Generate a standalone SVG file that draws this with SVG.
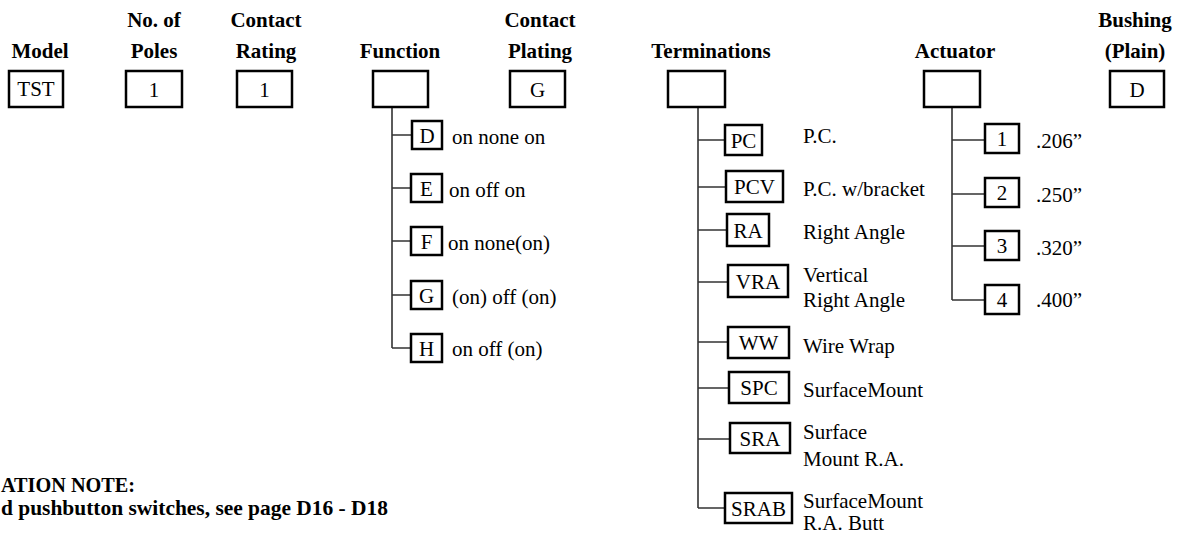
<svg xmlns="http://www.w3.org/2000/svg" width="1184" height="535" viewBox="0 0 1184 535">
<style>
.hd{font-family:"Liberation Serif","Times New Roman",serif;font-weight:bold;font-size:21px;fill:#000;text-anchor:middle}
.bx{fill:#fff;stroke:#000;stroke-width:2.5}
.bt{font-family:"Liberation Serif","Times New Roman",serif;font-size:21px;fill:#000;text-anchor:middle}
.lb{font-family:"Liberation Serif","Times New Roman",serif;font-size:21px;fill:#000}
.cn{fill:none;stroke:#333;stroke-width:1.6}
.nt{font-family:"Liberation Serif","Times New Roman",serif;font-weight:bold;font-size:21.5px;fill:#000}
</style>
<rect width="1184" height="535" fill="#fff"/>
<g id="connectors">
<path class="cn" d="M392 107V348M392 135H412M392 188H411M392 241H411M392 295H411M392 348H411"/>
<path class="cn" d="M698 107V508M698 140H725M698 187H726M698 230H727M698 282H728M698 342H728M698 388H729M698 439H730M698 508H725"/>
<path class="cn" d="M952 107V300M952 140H985M952 194H985M952 246H985M952 300H985"/>
</g>
<g id="model"><text class="hd" x="40" y="58">Model</text><rect class="bx" x="9" y="71" width="54" height="36"/><text class="bt" x="36" y="96">TST</text></g>
<g id="poles"><text class="hd" x="154" y="27">No. of</text><text class="hd" x="154" y="58">Poles</text><rect class="bx" x="126" y="71" width="56" height="36"/><text class="bt" x="154" y="97">1</text></g>
<g id="rating"><text class="hd" x="266" y="27">Contact</text><text class="hd" x="266" y="58">Rating</text><rect class="bx" x="237" y="71" width="55" height="36"/><text class="bt" x="264.5" y="97">1</text></g>
<g id="function"><text class="hd" x="400" y="58">Function</text><rect class="bx" x="373" y="71" width="55" height="36"/></g>
<g id="plating"><text class="hd" x="540" y="27">Contact</text><text class="hd" x="540" y="58">Plating</text><rect class="bx" x="510" y="71" width="55" height="36"/><text class="bt" x="537.5" y="97">G</text></g>
<g id="terminations"><text class="hd" x="711" y="58">Terminations</text><rect class="bx" x="668" y="71" width="57" height="36"/></g>
<g id="actuator"><text class="hd" x="955" y="58">Actuator</text><rect class="bx" x="924" y="71" width="56" height="36"/></g>
<g id="bushing"><text class="hd" x="1135" y="27">Bushing</text><text class="hd" x="1135" y="58">(Plain)</text><rect class="bx" x="1110" y="71" width="54" height="36"/><text class="bt" x="1137" y="97">D</text></g>

<g id="fn-D"><rect class="bx" x="412" y="121" width="30" height="28"/><text class="bt" x="427" y="143">D</text><text class="lb" x="452" y="144">on none on</text></g>
<g id="fn-E"><rect class="bx" x="411" y="174" width="31" height="28"/><text class="bt" x="426.5" y="196">E</text><text class="lb" x="449" y="197">on off on</text></g>
<g id="fn-F"><rect class="bx" x="411" y="227" width="31" height="28"/><text class="bt" x="426.5" y="249">F</text><text class="lb" x="448" y="250">on none(on)</text></g>
<g id="fn-G"><rect class="bx" x="411" y="281" width="31" height="28"/><text class="bt" x="426.5" y="303">G</text><text class="lb" x="452" y="304">(on) off (on)</text></g>
<g id="fn-H"><rect class="bx" x="411" y="334" width="31" height="28"/><text class="bt" x="426.5" y="356">H</text><text class="lb" x="452" y="356">on off (on)</text></g>

<g id="t-PC"><rect class="bx" x="725" y="125" width="37" height="30"/><text class="bt" x="743.5" y="148">PC</text><text class="lb" x="803" y="143">P.C.</text></g>
<g id="t-PCV"><rect class="bx" x="726" y="171" width="57" height="31"/><text class="bt" x="754.5" y="194">PCV</text><text class="lb" x="803" y="196">P.C. w/bracket</text></g>
<g id="t-RA"><rect class="bx" x="727" y="214" width="42" height="32"/><text class="bt" x="748" y="238">RA</text><text class="lb" x="803" y="239">Right Angle</text></g>
<g id="t-VRA"><rect class="bx" x="728" y="265" width="60" height="32"/><text class="bt" x="758" y="289">VRA</text><text class="lb" x="803" y="282">Vertical</text><text class="lb" x="803" y="307">Right Angle</text></g>
<g id="t-WW"><rect class="bx" x="728" y="327" width="61" height="31"/><text class="bt" x="758.5" y="350">WW</text><text class="lb" x="803" y="353">Wire Wrap</text></g>
<g id="t-SPC"><rect class="bx" x="729" y="372" width="60" height="31"/><text class="bt" x="759" y="395">SPC</text><text class="lb" x="803" y="397">SurfaceMount</text></g>
<g id="t-SRA"><rect class="bx" x="730" y="423" width="60" height="30"/><text class="bt" x="760" y="446">SRA</text><text class="lb" x="803" y="439">Surface</text><text class="lb" x="803" y="466">Mount R.A.</text></g>
<g id="t-SRAB"><rect class="bx" x="725" y="493" width="67" height="30"/><text class="bt" x="758.5" y="516">SRAB</text><text class="lb" x="803" y="508">SurfaceMount</text><text class="lb" x="803" y="530">R.A. Butt</text></g>

<g id="a-1"><rect class="bx" x="985" y="124" width="34" height="29"/><text class="bt" x="1002" y="146">1</text><text class="lb" x="1036" y="148">.206”</text></g>
<g id="a-2"><rect class="bx" x="985" y="178" width="34" height="29"/><text class="bt" x="1002" y="200">2</text><text class="lb" x="1036" y="202">.250”</text></g>
<g id="a-3"><rect class="bx" x="985" y="231" width="34" height="29"/><text class="bt" x="1002" y="253">3</text><text class="lb" x="1036" y="255">.320”</text></g>
<g id="a-4"><rect class="bx" x="985" y="285" width="34" height="29"/><text class="bt" x="1002" y="307">4</text><text class="lb" x="1036" y="307">.400”</text></g>

<g id="note"><text class="nt" x="1" y="492" textLength="134" lengthAdjust="spacingAndGlyphs">ATION NOTE:</text><text class="nt" x="1" y="515" textLength="387" lengthAdjust="spacingAndGlyphs">d pushbutton switches, see page D16 - D18</text></g>
</svg>
